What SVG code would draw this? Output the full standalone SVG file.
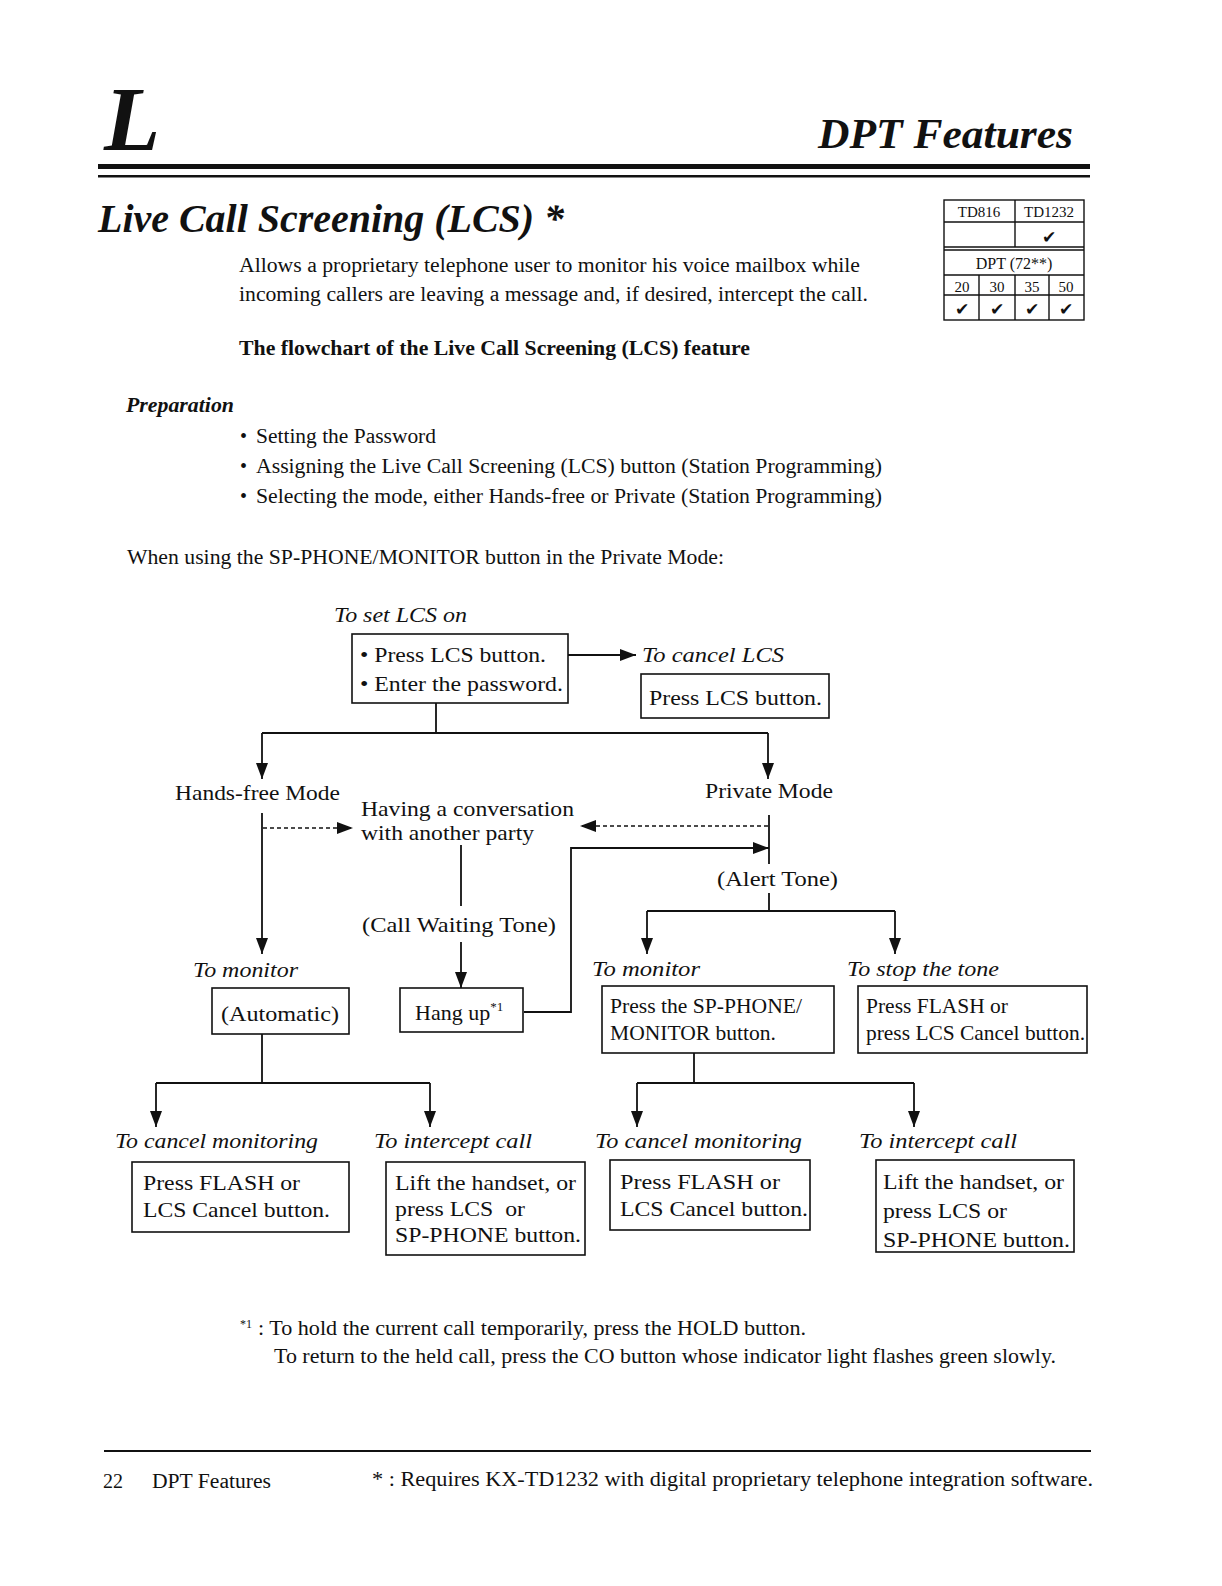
<svg xmlns="http://www.w3.org/2000/svg" width="1222" height="1586" viewBox="0 0 1222 1586">
<style>
text{font-family:"Liberation Serif","Times New Roman",serif;fill:#111}
.t{font-size:22px}
.i{font-size:22px;font-style:italic}
.p{font-size:20px}
.box{fill:none;stroke:#111;stroke-width:1.6}
.ln{fill:none;stroke:#111;stroke-width:1.8}
.ar{fill:none;stroke:#111;stroke-width:1.8;marker-end:url(#ah)}
.da{fill:none;stroke:#111;stroke-width:1.6;stroke-dasharray:4 3;marker-end:url(#ah)}
.tb{fill:none;stroke:#111;stroke-width:1.4}
.ck{font-family:"DejaVu Sans",sans-serif;font-size:17px;font-style:italic}
</style>
<defs>
<marker id="ah" markerUnits="userSpaceOnUse" markerWidth="16" markerHeight="12" refX="16" refY="6" orient="auto"><path d="M0,0 L16,6 L0,12 z" fill="#111"/></marker>
</defs>
<rect width="1222" height="1586" fill="#fff"/>

<g id="header">
<text x="104" y="150" font-size="92" font-weight="bold" font-style="italic">L</text>
<text x="818" y="148" font-size="42" font-weight="bold" font-style="italic" textLength="255" lengthAdjust="spacingAndGlyphs">DPT Features</text>
<rect x="98" y="164" width="992" height="5" fill="#111"/>
<rect x="98" y="175" width="992" height="2.5" fill="#111"/>
<text x="98" y="232" font-size="40" font-weight="bold" font-style="italic" textLength="466" lengthAdjust="spacingAndGlyphs">Live Call Screening (LCS) *</text>
<text class="p" x="239" y="272" textLength="621" lengthAdjust="spacingAndGlyphs">Allows a proprietary telephone user to monitor his voice mailbox while</text>
<text class="p" x="239" y="301" textLength="629" lengthAdjust="spacingAndGlyphs">incoming callers are leaving a message and, if desired, intercept the call.</text>
<text class="p" x="239" y="355" font-weight="bold" textLength="511" lengthAdjust="spacingAndGlyphs">The flowchart of the Live Call Screening (LCS) feature</text>
<text class="p" x="126" y="412" font-weight="bold" font-style="italic" textLength="108" lengthAdjust="spacingAndGlyphs">Preparation</text>
<text class="p" x="240" y="443">•</text>
<text class="p" x="256" y="443" textLength="180" lengthAdjust="spacingAndGlyphs">Setting the Password</text>
<text class="p" x="240" y="473">•</text>
<text class="p" x="256" y="473" textLength="626" lengthAdjust="spacingAndGlyphs">Assigning the Live Call Screening (LCS) button (Station Programming)</text>
<text class="p" x="240" y="503">•</text>
<text class="p" x="256" y="503" textLength="626" lengthAdjust="spacingAndGlyphs">Selecting the mode, either Hands-free or Private (Station Programming)</text>
<text class="p" x="127" y="564" textLength="597" lengthAdjust="spacingAndGlyphs">When using the SP-PHONE/MONITOR button in the Private Mode:</text>
</g>

<g id="model-table">
<rect class="tb" x="944" y="200" width="140" height="120"/>
<line class="tb" x1="944" y1="222" x2="1084" y2="222"/>
<line class="tb" x1="1015" y1="200" x2="1015" y2="247"/>
<line class="tb" x1="944" y1="247" x2="1084" y2="247"/>
<line class="tb" x1="944" y1="250" x2="1084" y2="250"/>
<line class="tb" x1="944" y1="275" x2="1084" y2="275"/>
<line class="tb" x1="944" y1="295" x2="1084" y2="295"/>
<line class="tb" x1="979" y1="275" x2="979" y2="320"/>
<line class="tb" x1="1015" y1="275" x2="1015" y2="320"/>
<line class="tb" x1="1049" y1="275" x2="1049" y2="320"/>
<text x="979" y="217" font-size="15" text-anchor="middle">TD816</text>
<text x="1049" y="217" font-size="15" text-anchor="middle">TD1232</text>
<text class="ck" x="1049" y="243" text-anchor="middle">✔</text>
<text x="1014" y="269" font-size="16" text-anchor="middle">DPT (72**)</text>
<text x="962" y="292" font-size="15" text-anchor="middle">20</text>
<text x="997" y="292" font-size="15" text-anchor="middle">30</text>
<text x="1032" y="292" font-size="15" text-anchor="middle">35</text>
<text x="1066" y="292" font-size="15" text-anchor="middle">50</text>
<text class="ck" x="962" y="315" text-anchor="middle">✔</text>
<text class="ck" x="997" y="315" text-anchor="middle">✔</text>
<text class="ck" x="1032" y="315" text-anchor="middle">✔</text>
<text class="ck" x="1066" y="315" text-anchor="middle">✔</text>
</g>

<g id="connectors">
<path class="ar" d="M568,655 H636"/>
<path class="ln" d="M436,703 V733 M262,733 H768"/>
<path class="ar" d="M262,733 V779"/>
<path class="ar" d="M768,733 V779"/>
<path class="ar" d="M262,813 V954"/>
<path class="da" d="M263,828 H353"/>
<path class="ln" d="M769,815 V864"/>
<path class="da" d="M768,826 H580"/>
<path class="ar" d="M524,1012 H571 V848 H769"/>
<path class="ln" d="M769,893 V911 M647,911 H895"/>
<path class="ar" d="M647,911 V954"/>
<path class="ar" d="M895,911 V954"/>
<path class="ln" d="M461,845 V906"/>
<path class="ar" d="M461,942 V988"/>
<path class="ln" d="M262,1034 V1083 M156,1083 H430"/>
<path class="ar" d="M156,1083 V1127"/>
<path class="ar" d="M430,1083 V1127"/>
<path class="ln" d="M694,1053 V1083 M637,1083 H914"/>
<path class="ar" d="M637,1083 V1127"/>
<path class="ar" d="M914,1083 V1127"/>
</g>

<g id="set-lcs">
<text class="i" x="334" y="622" textLength="133" lengthAdjust="spacingAndGlyphs">To set LCS on</text>
<rect class="box" x="352" y="634" width="216" height="69"/>
<text class="t" x="360" y="662" textLength="186" lengthAdjust="spacingAndGlyphs">• Press LCS button.</text>
<text class="t" x="360" y="691" textLength="203" lengthAdjust="spacingAndGlyphs">• Enter the password.</text>
</g>

<g id="cancel-lcs">
<text class="i" x="642" y="662" textLength="142" lengthAdjust="spacingAndGlyphs">To cancel LCS</text>
<rect class="box" x="641" y="674" width="188" height="44"/>
<text class="t" x="649" y="705" textLength="173" lengthAdjust="spacingAndGlyphs">Press LCS button.</text>
</g>

<g id="hands-free-mode">
<text class="t" x="175" y="800" textLength="165" lengthAdjust="spacingAndGlyphs">Hands-free Mode</text>
</g>

<g id="private-mode">
<text class="t" x="705" y="798" textLength="128" lengthAdjust="spacingAndGlyphs">Private Mode</text>
</g>

<g id="conversation">
<text class="t" x="361" y="816" textLength="213" lengthAdjust="spacingAndGlyphs">Having a conversation</text>
<text class="t" x="361" y="840" textLength="173" lengthAdjust="spacingAndGlyphs">with another party</text>
</g>

<g id="alert-tone">
<text class="t" x="717" y="886" textLength="121" lengthAdjust="spacingAndGlyphs">(Alert Tone)</text>
</g>

<g id="call-waiting-tone">
<text class="t" x="362" y="932" textLength="194" lengthAdjust="spacingAndGlyphs">(Call Waiting Tone)</text>
</g>

<g id="hf-monitor">
<text class="i" x="193" y="977" textLength="105" lengthAdjust="spacingAndGlyphs">To monitor</text>
<rect class="box" x="212" y="988" width="137" height="46"/>
<text class="t" x="221" y="1021" textLength="118" lengthAdjust="spacingAndGlyphs">(Automatic)</text>
</g>

<g id="hang-up">
<rect class="box" x="400" y="988" width="123" height="44"/>
<text class="t" x="415" y="1020">Hang up<tspan font-size="13" dy="-9">*1</tspan></text>
</g>

<g id="pm-monitor">
<text class="i" x="592" y="976" textLength="108" lengthAdjust="spacingAndGlyphs">To monitor</text>
<rect class="box" x="602" y="986" width="232" height="67"/>
<text class="t" x="610" y="1013" textLength="192" lengthAdjust="spacingAndGlyphs">Press the SP-PHONE/</text>
<text class="t" x="610" y="1040" textLength="166" lengthAdjust="spacingAndGlyphs">MONITOR button.</text>
</g>

<g id="stop-tone">
<text class="i" x="847" y="976" textLength="152" lengthAdjust="spacingAndGlyphs">To stop the tone</text>
<rect class="box" x="858" y="986" width="229" height="67"/>
<text class="t" x="866" y="1013" textLength="142" lengthAdjust="spacingAndGlyphs">Press FLASH or</text>
<text class="t" x="866" y="1040" textLength="219" lengthAdjust="spacingAndGlyphs">press LCS Cancel button.</text>
</g>

<g id="hf-cancel-monitoring">
<text class="i" x="115" y="1148" textLength="203" lengthAdjust="spacingAndGlyphs">To cancel monitoring</text>
<rect class="box" x="132" y="1162" width="217" height="70"/>
<text class="t" x="143" y="1190" textLength="157" lengthAdjust="spacingAndGlyphs">Press FLASH or</text>
<text class="t" x="143" y="1217" textLength="187" lengthAdjust="spacingAndGlyphs">LCS Cancel button.</text>
</g>

<g id="hf-intercept">
<text class="i" x="374" y="1148" textLength="158" lengthAdjust="spacingAndGlyphs">To intercept call</text>
<rect class="box" x="386" y="1162" width="199" height="93"/>
<text class="t" x="395" y="1190" textLength="181" lengthAdjust="spacingAndGlyphs">Lift the handset, or</text>
<text class="t" x="395" y="1216" xml:space="preserve" textLength="130" lengthAdjust="spacingAndGlyphs">press LCS  or</text>
<text class="t" x="395" y="1242" textLength="186" lengthAdjust="spacingAndGlyphs">SP-PHONE button.</text>
</g>

<g id="pm-cancel-monitoring">
<text class="i" x="595" y="1148" textLength="207" lengthAdjust="spacingAndGlyphs">To cancel monitoring</text>
<rect class="box" x="610" y="1160" width="200" height="70"/>
<text class="t" x="620" y="1189" textLength="160" lengthAdjust="spacingAndGlyphs">Press FLASH or</text>
<text class="t" x="620" y="1216" textLength="188" lengthAdjust="spacingAndGlyphs">LCS Cancel button.</text>
</g>

<g id="pm-intercept">
<text class="i" x="859" y="1148" textLength="158" lengthAdjust="spacingAndGlyphs">To intercept call</text>
<rect class="box" x="876" y="1160" width="198" height="92"/>
<text class="t" x="883" y="1189" textLength="181" lengthAdjust="spacingAndGlyphs">Lift the handset, or</text>
<text class="t" x="883" y="1218" textLength="124" lengthAdjust="spacingAndGlyphs">press LCS or</text>
<text class="t" x="883" y="1247" textLength="187" lengthAdjust="spacingAndGlyphs">SP-PHONE button.</text>
</g>

<g id="footnote">
<text x="240" y="1328" font-size="12">*1</text>
<text class="p" x="258" y="1335" textLength="548" lengthAdjust="spacingAndGlyphs">: To hold the current call temporarily, press the HOLD button.</text>
<text class="p" x="274" y="1363" textLength="782" lengthAdjust="spacingAndGlyphs">To return to the held call, press the CO button whose indicator light flashes green slowly.</text>
</g>

<g id="footer">
<line x1="104" y1="1451" x2="1091" y2="1451" stroke="#111" stroke-width="1.8"/>
<text class="p" x="103" y="1488">22</text>
<text class="p" x="152" y="1488" textLength="119" lengthAdjust="spacingAndGlyphs">DPT Features</text>
<text class="p" x="372" y="1486" textLength="721" lengthAdjust="spacingAndGlyphs">* : Requires KX-TD1232 with digital proprietary telephone integration software.</text>
</g>
</svg>
